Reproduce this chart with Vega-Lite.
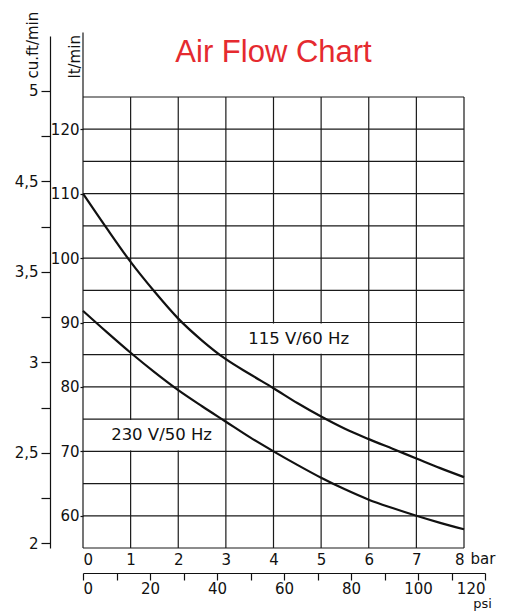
{
  "$schema": "https://vega.github.io/schema/vega-lite/v6.json",
  "width": 381,
  "height": 451,
  "autosize": {"type": "none"},
  "padding": {"left": 83, "top": 97, "right": 41, "bottom": 63},
  "background": "white",
  "title": {"text": "Air Flow Chart", "color": "#e52a2f", "font": "Liberation Sans", "fontSize": 31, "fontWeight": "normal", "anchor": "middle", "frame": "group", "offset": -58},
  "config": {
    "view": {"stroke": null},
    "axis": {"labelFont": "DejaVu Sans", "labelFontSize": 15, "labelColor": "#111", "titleFont": "DejaVu Sans", "titleFontSize": 15, "titleFontWeight": "normal", "titleColor": "#111", "domainColor": "#111", "tickColor": "#111", "domainWidth": 1.2, "tickWidth": 1.2, "grid": false}
  },
  "datasets": {
    "vx": [{"bar": 0}, {"bar": 1}, {"bar": 2}, {"bar": 3}, {"bar": 4}, {"bar": 5}, {"bar": 6}, {"bar": 7}, {"bar": 8}],
    "hy": [{"flow": 55}, {"flow": 60}, {"flow": 65}, {"flow": 70}, {"flow": 75}, {"flow": 80}, {"flow": 85}, {"flow": 90}, {"flow": 95}, {"flow": 100}, {"flow": 105}, {"flow": 110}, {"flow": 115}, {"flow": 120}, {"flow": 125}],
    "boxes": [{"bar": 0.05, "bar2": 2.95, "flow": 70.15, "flow2": 74.85}, {"bar": 3.05, "bar2": 5.95, "flow": 85.15, "flow2": 89.85}],
    "ext": [{"bar": 0, "flow": 125, "flow2": 135}],
    "curves": [
      {"series": "115 V/60 Hz", "bar": 0, "flow": 110},
      {"series": "115 V/60 Hz", "bar": 0.5, "flow": 104.6},
      {"series": "115 V/60 Hz", "bar": 1, "flow": 99.4},
      {"series": "115 V/60 Hz", "bar": 1.5, "flow": 94.8},
      {"series": "115 V/60 Hz", "bar": 2, "flow": 90.6},
      {"series": "115 V/60 Hz", "bar": 2.5, "flow": 87.2},
      {"series": "115 V/60 Hz", "bar": 3, "flow": 84.3},
      {"series": "115 V/60 Hz", "bar": 3.5, "flow": 82.0},
      {"series": "115 V/60 Hz", "bar": 4, "flow": 79.8},
      {"series": "115 V/60 Hz", "bar": 4.5, "flow": 77.5},
      {"series": "115 V/60 Hz", "bar": 5, "flow": 75.4},
      {"series": "115 V/60 Hz", "bar": 5.5, "flow": 73.5},
      {"series": "115 V/60 Hz", "bar": 6, "flow": 71.9},
      {"series": "115 V/60 Hz", "bar": 6.5, "flow": 70.4},
      {"series": "115 V/60 Hz", "bar": 7, "flow": 68.9},
      {"series": "115 V/60 Hz", "bar": 7.5, "flow": 67.4},
      {"series": "115 V/60 Hz", "bar": 8, "flow": 66.0},
      {"series": "230 V/50 Hz", "bar": 0, "flow": 91.8},
      {"series": "230 V/50 Hz", "bar": 0.5, "flow": 88.5},
      {"series": "230 V/50 Hz", "bar": 1, "flow": 85.3},
      {"series": "230 V/50 Hz", "bar": 1.5, "flow": 82.3},
      {"series": "230 V/50 Hz", "bar": 2, "flow": 79.5},
      {"series": "230 V/50 Hz", "bar": 2.5, "flow": 77.0},
      {"series": "230 V/50 Hz", "bar": 3, "flow": 74.6},
      {"series": "230 V/50 Hz", "bar": 3.5, "flow": 72.2},
      {"series": "230 V/50 Hz", "bar": 4, "flow": 70.0},
      {"series": "230 V/50 Hz", "bar": 4.5, "flow": 67.9},
      {"series": "230 V/50 Hz", "bar": 5, "flow": 65.9},
      {"series": "230 V/50 Hz", "bar": 5.5, "flow": 64.1},
      {"series": "230 V/50 Hz", "bar": 6, "flow": 62.5},
      {"series": "230 V/50 Hz", "bar": 6.5, "flow": 61.2},
      {"series": "230 V/50 Hz", "bar": 7, "flow": 60.0},
      {"series": "230 V/50 Hz", "bar": 7.5, "flow": 58.9},
      {"series": "230 V/50 Hz", "bar": 8, "flow": 57.9}
    ],
    "labels": [{"text": "115 V/60 Hz", "bar": 4.53, "flow": 87.5}, {"text": "230 V/50 Hz", "bar": 1.65, "flow": 72.5}],
    "cu": [{"idx": 0}, {"idx": 1}, {"idx": 2}, {"idx": 3}, {"idx": 4}, {"idx": 5}, {"idx": 6}, {"idx": 7}, {"idx": 8}, {"idx": 9}, {"idx": 10}],
    "psi": [{"psi": 0}, {"psi": 10}, {"psi": 20}, {"psi": 30}, {"psi": 40}, {"psi": 50}, {"psi": 60}, {"psi": 70}, {"psi": 80}, {"psi": 90}, {"psi": 100}, {"psi": 110}, {"psi": 120}]
  },
  "layer": [
    {
      "layer": [
        {
          "data": {"name": "vx"},
          "mark": {"type": "rule", "color": "#1a1a1a", "strokeWidth": 1.2},
          "encoding": {
            "x": {"field": "bar", "type": "quantitative", "scale": {"domain": [0, 8], "nice": false, "zero": false},
              "axis": {"orient": "bottom", "values": [0, 1, 2, 3, 4, 5, 6, 7, 8], "format": "d", "domain": false, "ticks": false, "labelPadding": 4, "title": "bar", "titleX": 387, "titleY": 15, "titleAlign": "left", "titleBaseline": "alphabetic", "titleAnchor": null}}
          }
        },
        {
          "data": {"name": "boxes"},
          "mark": {"type": "rect", "color": "white"},
          "encoding": {
            "x": {"field": "bar", "type": "quantitative"},
            "x2": {"field": "bar2"},
            "y": {"field": "flow", "type": "quantitative"},
            "y2": {"field": "flow2"}
          }
        },
        {
          "data": {"name": "hy"},
          "mark": {"type": "rule", "color": "#1a1a1a", "strokeWidth": 1.2},
          "encoding": {
            "y": {"field": "flow", "type": "quantitative", "scale": {"domain": [55, 125], "nice": false, "zero": false},
              "axis": {"orient": "left", "values": [60, 70, 80, 90, 100, 110, 120], "format": "d", "domain": false, "ticks": true, "tickSize": 3, "labelPadding": 1, "title": "lt/min", "titleAngle": 270, "titleX": -3.5, "titleY": -19, "titleAlign": "left", "titleBaseline": "alphabetic", "titleAnchor": null}}
          }
        },
        {
          "data": {"name": "ext"},
          "mark": {"type": "rule", "color": "#1a1a1a", "strokeWidth": 1.2, "clip": false},
          "encoding": {
            "x": {"field": "bar", "type": "quantitative"},
            "y": {"field": "flow", "type": "quantitative"},
            "y2": {"field": "flow2"}
          }
        },
        {
          "data": {"name": "curves"},
          "mark": {"type": "line", "color": "#111", "strokeWidth": 2.2, "interpolate": "monotone"},
          "encoding": {
            "x": {"field": "bar", "type": "quantitative"},
            "y": {"field": "flow", "type": "quantitative"},
            "detail": {"field": "series"}
          }
        },
        {
          "data": {"name": "labels"},
          "mark": {"type": "text", "font": "DejaVu Sans", "fontSize": 16.5, "color": "#111", "align": "center", "baseline": "middle"},
          "encoding": {
            "x": {"field": "bar", "type": "quantitative"},
            "y": {"field": "flow", "type": "quantitative"},
            "text": {"field": "text"}
          }
        }
      ]
    },
    {
      "data": {"name": "cu"},
      "mark": {"type": "rule", "opacity": 0},
      "encoding": {
        "y": {"field": "idx", "type": "quantitative", "scale": {"domain": [-0.104, 11.21], "range": [451, -61], "nice": false, "zero": false},
          "axis": {"orient": "left", "offset": 33, "values": [0, 1, 2, 3, 4, 5, 6, 7, 8, 9, 10], "labelExpr": "datum.value == 0 ? '2' : datum.value == 2 ? '2,5' : datum.value == 4 ? '3' : datum.value == 6 ? '3,5' : datum.value == 8 ? '4,5' : datum.value == 10 ? '5' : ''", "tickSize": 9, "labelPadding": 3, "title": "cu.ft/min", "titleAngle": 270, "titleX": -12.5, "titleY": -19, "titleAlign": "left", "titleBaseline": "alphabetic", "titleAnchor": null}}
      }
    },
    {
      "data": {"name": "psi"},
      "mark": {"type": "rule", "opacity": 0},
      "encoding": {
        "x": {"field": "psi", "type": "quantitative", "scale": {"domain": [0, 120], "range": [0, 402], "nice": false, "zero": false},
          "axis": {"orient": "bottom", "offset": 25, "values": [0, 10, 20, 30, 40, 50, 60, 70, 80, 90, 100, 110, 120], "labelExpr": "datum.value % 20 == 0 ? datum.label : ''", "tickSize": 7, "labelPadding": 1, "title": "psi", "titleFontSize": 13, "titleX": 399, "titleY": 34, "titleAlign": "center", "titleBaseline": "alphabetic", "titleAnchor": null}}
      }
    }
  ],
  "resolve": {"scale": {"x": "independent", "y": "independent"}}
}
